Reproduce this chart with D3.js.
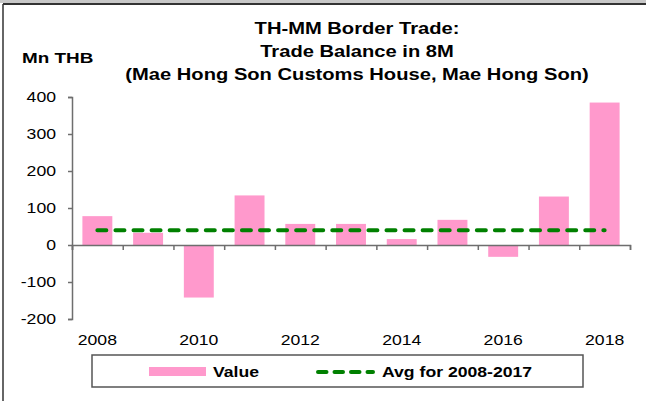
<!DOCTYPE html>
<html>
<head>
<meta charset="utf-8">
<script src="https://cdn.jsdelivr.net/npm/d3@7"></script>
<style>
  html, body { margin: 0; padding: 0; background: #fff; }
  svg { display: block; }
  text { font-family: "Liberation Sans", Arial, sans-serif; fill: #000; }
</style>
</head>
<body>
<svg id="chart" width="646" height="401"></svg>
<script>
// Trade balance, Jan–Aug of each year (Mn THB)
const years = ["2008","2009","2010","2011","2012","2013","2014","2015","2016","2017","2018"];
const values = [78, 33, -142, 134, 57, 57, 16, 68, -32, 131, 385];
const yTicks = [-200, -100, 0, 100, 200, 300, 400];
const xLabels = ["2008","2010","2012","2014","2016","2018"];
const titleLines = ["TH-MM Border Trade:", "Trade Balance in 8M", "(Mae Hong Son Customs House, Mae Hong Son)"];
const unitLabel = "Mn THB";
const legendLabels = ["Value", "Avg for 2008-2017"];
const avgYears = years.slice(0, 10);

const PINK = "#ff99cc", GREEN = "#008000", AXIS = "#6e6e6e";
const SX = 1.26; // horizontal stretch of the lettering

const svg = d3.select("#chart");

// frame
svg.append("rect").attr("x", 0).attr("y", 0).attr("width", 646).attr("height", 3).attr("fill", "#c8c8c8");
svg.append("line").attr("x1", 3).attr("x2", 646).attr("y1", 4).attr("y2", 4).attr("stroke", "#333").attr("stroke-width", 2);
svg.append("line").attr("x1", 3).attr("x2", 3).attr("y1", 4).attr("y2", 401).attr("stroke", "#333").attr("stroke-width", 1.5);

const x = d3.scaleBand().domain(years).range([72, 630]).padding(0);
const xBar = d3.scaleBand().domain(years).range([72, 630]).paddingInner(0.41).paddingOuter(0.205);
const y = d3.scaleLinear().domain([-200, 400]).range([319, 97]);

function stretchedText(g, str, px, py, anchor, size, weight) {
  return g.append("text")
    .attr("transform", `translate(${px},${py}) scale(${SX},1)`)
    .attr("text-anchor", anchor)
    .style("font-size", size + "px")
    .style("font-weight", weight)
    .text(str);
}

// bars
svg.append("g").selectAll("rect").data(years).join("rect")
  .attr("x", d => xBar(d))
  .attr("width", xBar.bandwidth())
  .attr("y", (d, i) => y(Math.max(0, values[i])))
  .attr("height", (d, i) => Math.abs(y(values[i]) - y(0)))
  .attr("fill", PINK);

// y axis
const yAxis = svg.append("g").attr("transform", "translate(72,0)")
  .call(d3.axisLeft(y).tickValues(yTicks).tickSize(4).tickFormat(""));
yAxis.select(".domain").attr("stroke", AXIS).attr("stroke-width", 1.5);
yAxis.selectAll(".tick line").attr("stroke", AXIS).attr("stroke-width", 1.5);
const yLab = svg.append("g");
yTicks.forEach(v => stretchedText(yLab, String(v), 56, y(v) + 5, "end", 14, "normal"));

// x axis along zero, ticks at category boundaries
const xAxis = svg.append("g").attr("transform", `translate(0,${y(0)})`)
  .call(d3.axisBottom(d3.scaleLinear().domain([0, years.length]).range([72, 630]))
    .tickValues(d3.range(years.length + 1)).tickSize(5).tickFormat(""));
xAxis.select(".domain").attr("stroke", AXIS).attr("stroke-width", 1.5);
xAxis.selectAll(".tick line").attr("stroke", AXIS).attr("stroke-width", 1.5);
const xLab = svg.append("g");
xLabels.forEach(l => stretchedText(xLab, l, x(l) + x.bandwidth() / 2, 345, "middle", 14, "normal"));

// average line over 2008-2017, drawn across all categories
const avg = d3.mean(avgYears, d => values[years.indexOf(d)]);
svg.append("line")
  .attr("x1", x(years[0]) + x.bandwidth() / 2)
  .attr("x2", x(years[years.length - 1]) + x.bandwidth() / 2)
  .attr("y1", y(avg)).attr("y2", y(avg))
  .attr("stroke", GREEN).attr("stroke-width", 4)
  .attr("stroke-linecap", "round")
  .attr("stroke-dasharray", "9 9.07");

// titles
const tg = svg.append("g");
titleLines.forEach((t, i) => stretchedText(tg, t, 357, 34 + i * 23, "middle", 16, "bold"));
stretchedText(tg, unitLabel, 22, 63, "start", 15, "bold");

// legend
const lg = svg.append("g");
lg.append("rect").attr("x", 92).attr("y", 355).attr("width", 491).attr("height", 32)
  .attr("fill", "#fff").attr("stroke", "#555").attr("stroke-width", 1.5);
lg.append("rect").attr("x", 149).attr("y", 367).attr("width", 57).attr("height", 9).attr("fill", PINK);
stretchedText(lg, legendLabels[0], 213, 377, "start", 14, "bold");
lg.append("line").attr("x1", 318).attr("x2", 373).attr("y1", 372).attr("y2", 372)
  .attr("stroke", GREEN).attr("stroke-width", 4).attr("stroke-linecap", "round")
  .attr("stroke-dasharray", "8.5 8");
stretchedText(lg, legendLabels[1], 382, 377, "start", 14, "bold");
</script>
</body>
</html>
